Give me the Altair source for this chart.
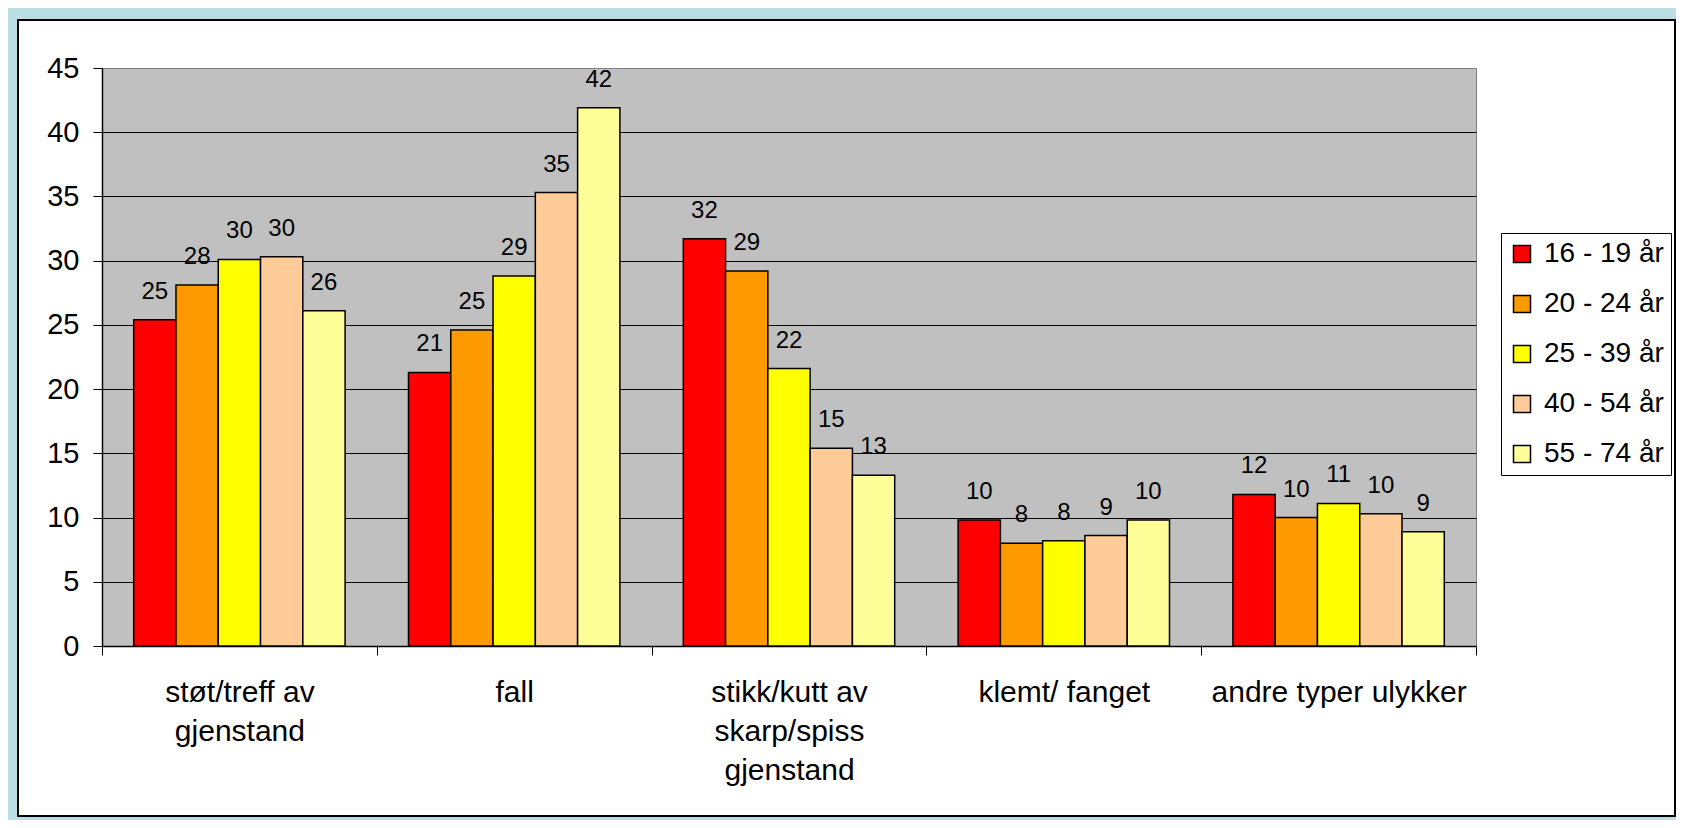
import altair as alt
import pandas as pd

# ---- data ----
categories = [
    "støt/treff av\ngjenstand",
    "fall",
    "stikk/kutt av\nskarp/spiss\ngjenstand",
    "klemt/ fanget",
    "andre typer ulykker",
]
age_groups = ["16 - 19 år", "20 - 24 år", "25 - 39 år", "40 - 54 år", "55 - 74 år"]
v_16_19 = [25.4, 21.3, 31.7, 9.8, 11.8]
v_20_24 = [28.1, 24.6, 29.2, 8.0, 10.0]
v_25_39 = [30.1, 28.8, 21.6, 8.2, 11.1]
v_40_54 = [30.3, 35.3, 15.4, 8.6, 10.3]
v_55_74 = [26.1, 41.9, 13.3, 9.8, 8.9]
y_ticks = [0, 5, 10, 15, 20, 25, 30, 35, 40, 45]
colors = ["#FF0000", "#FF9900", "#FFFF00", "#FFCC99", "#FFFF99"]

series = [v_16_19, v_20_24, v_25_39, v_40_54, v_55_74]
rows = []
for i, cat in enumerate(categories):
    for grp, vals in zip(age_groups, series):
        rows.append({"kategori": cat, "alder": grp, "verdi": vals[i]})
df = pd.DataFrame(rows)

FONT = "Liberation Sans"
TOTAL_W, TOTAL_H = 1668, 812
W, H = 1374, 578
PAD = {"left": 94, "top": 60, "right": TOTAL_W - 94 - W, "bottom": TOTAL_H - 60 - H}

base = alt.Chart(df).encode(
    x=alt.X(
        "kategori:N",
        sort=categories,
        scale=alt.Scale(paddingInner=0, paddingOuter=0),
        axis=alt.Axis(
            title=None,
            labelAngle=0,
            labelFont=FONT,
            labelFontSize=30,
            labelColor="black",
            labelExpr="split(datum.label, '\\n')",
            labelLineHeight=39,
            labelBaseline="top",
            labelPadding=22,
            labelLimit=0,
            labelOverlap=False,
            labelBound=False,
            tickBand="extent",
            ticks=True,
            tickSize=9,
            tickColor="black",
            tickWidth=1,
            domainColor="black",
            domainWidth=1.5,
            grid=False,
        ),
    ),
    xOffset=alt.XOffset(
        "alder:N",
        sort=age_groups,
        scale=alt.Scale(paddingOuter=0.75, paddingInner=0),
    ),
    y=alt.Y(
        "verdi:Q",
        scale=alt.Scale(domain=[0, 45], nice=False),
        axis=alt.Axis(
            title=None,
            values=y_ticks,
            labelFont=FONT,
            labelFontSize=29,
            labelColor="black",
            labelPadding=14,
            tickSize=9,
            tickColor="black",
            domainColor="black",
            domainWidth=1.5,
            grid=True,
            gridColor={"condition": {"test": "datum.value == 45", "value": "#808080"}, "value": "black"},
            gridWidth=1,
        ),
    ),
)

bars = base.mark_bar(stroke="black", strokeWidth=1.5).encode(
    color=alt.Color(
        "alder:N",
        sort=age_groups,
        scale=alt.Scale(domain=age_groups, range=colors),
        legend=alt.Legend(
            title=None,
            orient="none",
            legendX=1399,
            legendY=165,
            direction="vertical",
            symbolType="square",
            symbolSize=289,
            symbolStrokeColor="black",
            symbolStrokeWidth=1.5,
            symbolOpacity=1,
            labelFont=FONT,
            labelFontSize=28,
            labelColor="black",
            labelOffset=8,
            labelLimit=0,
            rowPadding=22,
            padding=7,
            strokeColor="black",
            fillColor="white",
        ),
    )
)

labels = base.mark_text(
    baseline="alphabetic", dy=-21, font=FONT, fontSize=24, color="black"
).encode(text=alt.Text("verdi:Q", format=".0f"))

frame_data = alt.Data(values=[{"f": 1}])
blue_frame = alt.Chart(frame_data).mark_rect(
    filled=False, stroke="#BADFE2", strokeWidth=22
).encode(x=alt.value(-96), x2=alt.value(1585), y=alt.value(-60), y2=alt.value(760))
black_frame = alt.Chart(frame_data).mark_rect(
    filled=False, stroke="black", strokeWidth=2
).encode(x=alt.value(-84), x2=alt.value(1573), y=alt.value(-48), y2=alt.value(748))

chart = (
    alt.layer(bars, labels, blue_frame, black_frame)
    .properties(
        width=W,
        height=H,
        padding=PAD,
        autosize=alt.AutoSizeParams(type="none"),
    )
    .configure(background="white")
    .configure_view(fill="#C0C0C0", stroke="#808080", strokeWidth=1)
)

chart.save("out.html", embed_options={"renderer": "svg", "actions": False})
